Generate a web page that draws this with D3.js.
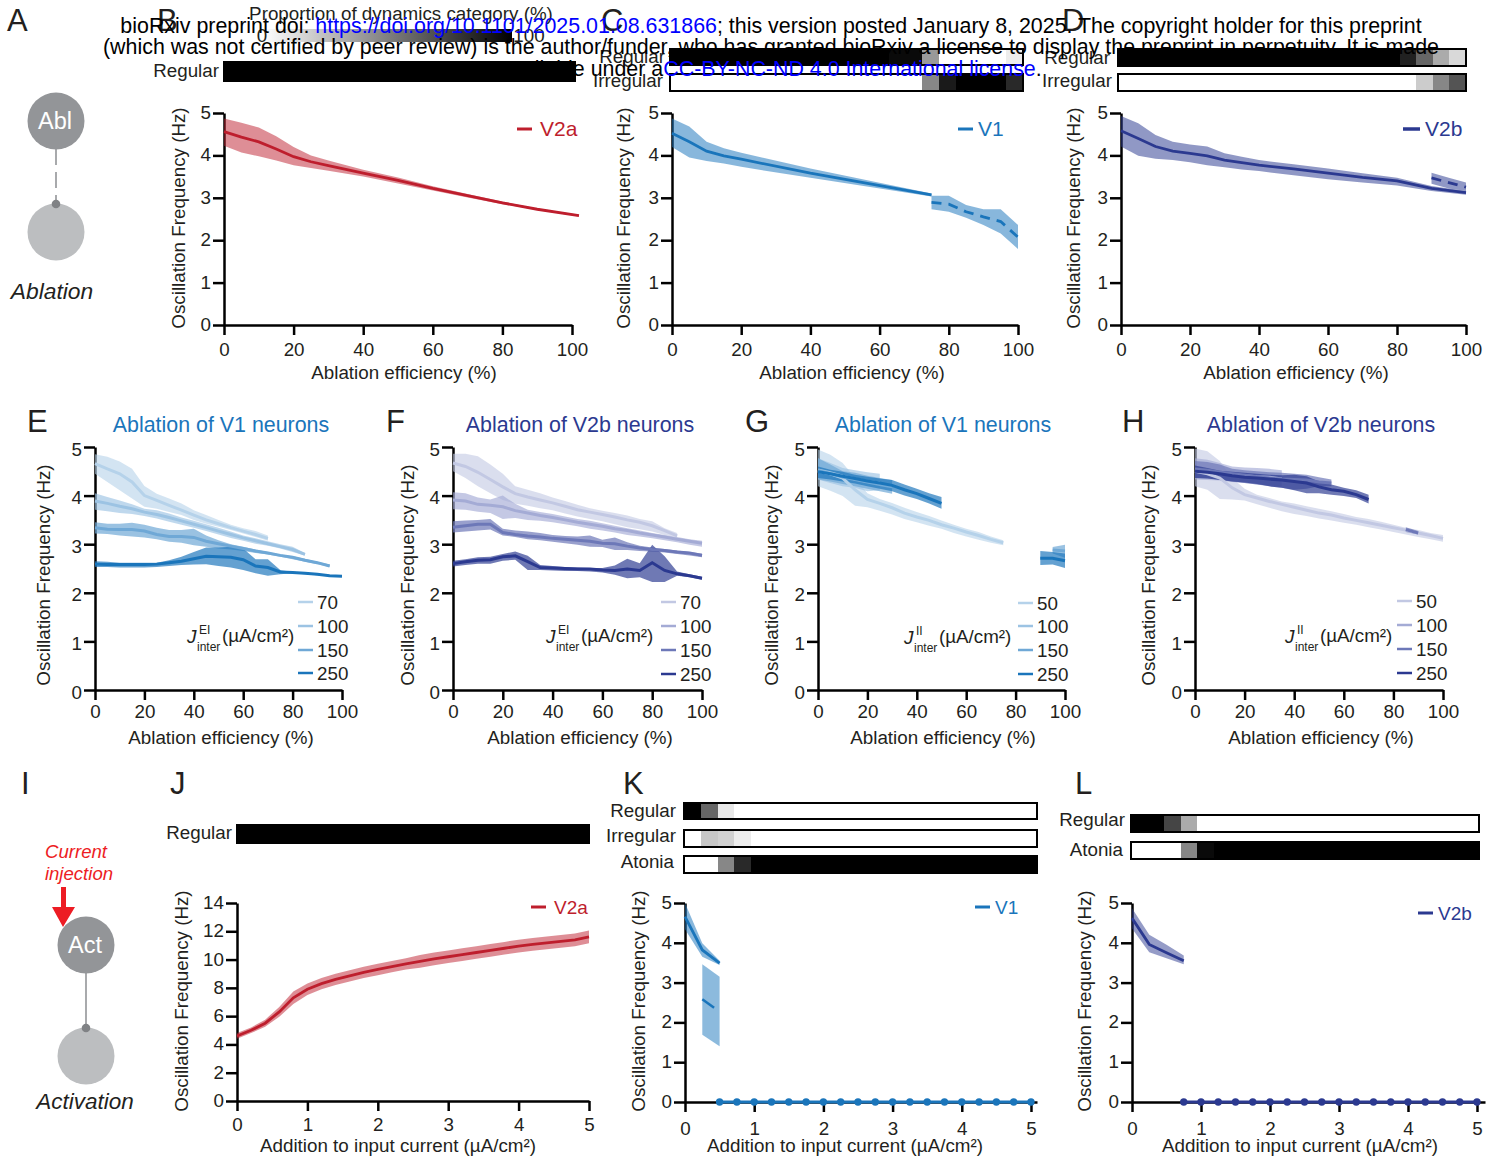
<!DOCTYPE html>
<html><head><meta charset="utf-8">
<script src="https://cdn.jsdelivr.net/npm/d3@7"></script>
<style>
html,body{margin:0;padding:0;background:#fff}
svg{display:block}
text{font-family:"Liberation Sans",Arial,sans-serif;fill:#231f20}
</style></head><body>
<svg id="c" width="1501" height="1162"></svg>
<script>
// ---------- data ----------
const effX=[0,5,10,15,20,25,30,35,40,45,50,55,60,65,70,75,80,85,90,95,100];
const curX=[0,0.25,0.5,0.75,1,1.25,1.5,1.75,2,2.25,2.5,2.75,3,3.25,3.5,3.75,4,4.25,4.5,4.75,5];
const yearTicks=[0,20,40,60,80,100];
const freqTicks=[0,1,2,3,4,5];

// B
const bX=[0,5,10,15,20,25,30,40,50,60,70,80,90,102];
const bMid=[4.56,4.43,4.32,4.15,3.97,3.85,3.76,3.58,3.41,3.22,3.05,2.88,2.73,2.58];
const bHi=[4.87,4.77,4.66,4.45,4.2,4.0,3.88,3.66,3.48,3.27,3.09,2.91,2.75,2.6];
const bLo=[4.23,4.07,3.98,3.88,3.77,3.7,3.64,3.5,3.34,3.17,3.01,2.85,2.71,2.56];
// C
const cX=[0,5,10,15,20,40,75];
const cMid=[4.52,4.32,4.10,3.99,3.91,3.58,3.07];
const cHi=[4.87,4.68,4.32,4.17,4.06,3.69,3.1];
const cLo=[4.2,3.95,3.87,3.81,3.73,3.47,3.03];
const cX2=[75,80,85,90,95,100];
const cMid2=[2.89,2.85,2.67,2.55,2.44,2.07];
const cHi2=[3.05,3.05,2.83,2.73,2.73,2.36];
const cLo2=[2.73,2.67,2.53,2.36,2.16,1.79];
// D
const dX=[0,5,10,15,20,25,30,35,40,50,60,70,80,90,100];
const dMid=[4.58,4.40,4.21,4.10,4.05,3.99,3.89,3.83,3.77,3.68,3.58,3.48,3.40,3.22,3.12];
const dHi=[4.93,4.76,4.48,4.32,4.26,4.21,4.05,3.97,3.89,3.79,3.69,3.58,3.47,3.28,3.16];
const dLo=[4.21,3.99,3.92,3.89,3.84,3.77,3.72,3.67,3.63,3.53,3.44,3.36,3.29,3.16,3.07];
const dX2=[90,95,100];
const dMid2=[3.47,3.36,3.25];
const dHi2=[3.59,3.47,3.36];
const dLo2=[3.33,3.22,3.16];
// E
const e70=[4.66,4.55,4.45,4.28,4.0,3.9,3.8,3.7,3.6,3.5,3.42,3.34,3.27,3.2,3.12];
const e70h=[4.85,4.8,4.7,4.55,4.2,4.04,3.94,3.84,3.7,3.6,3.5,3.4,3.33,3.27,3.18];
const e70l=[4.45,4.28,4.11,3.94,3.77,3.73,3.66,3.6,3.5,3.42,3.36,3.29,3.22,3.15,3.07];
const e100=[3.89,3.84,3.78,3.73,3.66,3.61,3.55,3.48,3.41,3.34,3.27,3.2,3.13,3.07,3.01,2.95,2.89,2.79];
const e100h=[4.05,3.97,3.9,3.82,3.73,3.7,3.63,3.55,3.48,3.41,3.34,3.26,3.18,3.12,3.06,3,2.95,2.82];
const e100l=[3.71,3.68,3.64,3.62,3.58,3.53,3.46,3.4,3.34,3.27,3.2,3.13,3.07,3.01,2.97,2.91,2.84,2.77];
const e150=[3.34,3.31,3.3,3.3,3.27,3.2,3.16,3.16,3.14,3.06,3.01,2.96,2.91,2.86,2.82,2.77,2.73,2.67,2.62,2.55];
const e150h=[3.45,3.42,3.42,3.44,3.4,3.34,3.29,3.29,3.32,3.18,3.08,3,2.95,2.89,2.84,2.79,2.75,2.7,2.64,2.58];
const e150l=[3.22,3.21,3.18,3.16,3.14,3.1,3.05,3.03,2.98,2.95,2.91,2.89,2.86,2.82,2.79,2.74,2.69,2.64,2.59,2.53];
const e250=[2.59,2.58,2.58,2.58,2.58,2.59,2.62,2.65,2.7,2.75,2.74,2.73,2.68,2.55,2.52,2.43,2.42,2.4,2.38,2.35,2.34];
const e250h=[2.65,2.64,2.62,2.62,2.62,2.62,2.67,2.74,2.84,2.93,2.93,2.95,2.91,2.69,2.69,2.47,2.43,2.41,2.39,2.36,2.35];
const e250l=[2.53,2.53,2.52,2.52,2.52,2.53,2.55,2.57,2.58,2.59,2.55,2.52,2.47,2.4,2.35,2.38,2.4,2.38,2.36,2.34,2.33];
// F
const f70=[4.67,4.6,4.48,4.33,4.18,4.04,3.97,3.91,3.85,3.78,3.71,3.66,3.61,3.56,3.5,3.45,3.38,3.28,3.17];
const f70h=[4.86,4.86,4.81,4.64,4.45,4.19,4.12,4.05,3.96,3.89,3.81,3.74,3.69,3.64,3.59,3.52,3.47,3.33,3.23];
const f70l=[4.5,4.36,4.19,4.05,3.91,3.83,3.79,3.74,3.7,3.63,3.57,3.52,3.47,3.41,3.35,3.31,3.26,3.19,3.15];
const f100=[3.91,3.89,3.82,3.8,3.77,3.69,3.64,3.59,3.55,3.5,3.45,3.41,3.37,3.32,3.28,3.23,3.19,3.15,3.1,3.06,3.02];
const f100h=[4.07,4.05,3.96,3.92,4,3.83,3.71,3.66,3.62,3.57,3.52,3.48,3.43,3.38,3.33,3.28,3.23,3.19,3.15,3.1,3.07];
const f100l=[3.72,3.71,3.67,3.64,3.52,3.54,3.5,3.48,3.45,3.41,3.37,3.32,3.28,3.24,3.19,3.16,3.12,3.08,3.04,2.99,2.95];
const f150=[3.35,3.38,3.41,3.41,3.24,3.2,3.17,3.15,3.12,3.1,3.08,3.06,3.02,3.01,2.96,2.92,2.89,2.87,2.84,2.82,2.77];
const f150h=[3.47,3.49,3.5,3.52,3.32,3.28,3.26,3.23,3.19,3.17,3.16,3.18,3.09,3.14,3.04,2.97,2.93,2.9,2.87,2.84,2.81];
const f150l=[3.24,3.26,3.28,3.3,3.18,3.15,3.1,3.08,3.05,3.02,2.99,2.95,2.94,2.88,2.88,2.86,2.85,2.83,2.8,2.77,2.73];
const f250=[2.6,2.64,2.67,2.68,2.74,2.76,2.64,2.52,2.51,2.5,2.49,2.49,2.47,2.46,2.49,2.46,2.62,2.46,2.39,2.35,2.3];
const f250h=[2.66,2.69,2.73,2.74,2.8,2.85,2.76,2.57,2.55,2.53,2.52,2.51,2.51,2.56,2.7,2.61,2.99,2.75,2.44,2.38,2.33];
const f250l=[2.54,2.57,2.6,2.6,2.66,2.68,2.47,2.47,2.46,2.45,2.45,2.44,2.42,2.37,2.3,2.32,2.22,2.22,2.35,2.32,2.27];
// G
const g50=[4.5,4.45,4.36,4.12,3.92,3.84,3.75,3.64,3.56,3.49,3.4,3.33,3.25,3.18,3.1,3.03];
const g50h=[4.95,4.84,4.67,4.36,4.05,3.93,3.85,3.75,3.66,3.58,3.49,3.4,3.32,3.25,3.16,3.08];
const g50l=[4.19,4.1,3.99,3.79,3.76,3.69,3.61,3.52,3.45,3.38,3.32,3.23,3.16,3.09,3.03,2.98];
const g100=[4.53,4.47,4.4,4.34,4.29,4.26];
const g100h=[4.77,4.67,4.57,4.52,4.48,4.45];
const g100l=[4.33,4.26,4.19,4.16,4.09,4.11];
const g150=[4.52,4.45,4.38,4.33,4.28,4.23,4.18];
const g150h=[4.77,4.64,4.5,4.47,4.41,4.36,4.32];
const g150l=[4.33,4.29,4.24,4.19,4.14,4.09,4.04];
const g150bX=[95,100];
const g150b=[2.88,2.86];
const g150bh=[2.94,2.99];
const g150bl=[2.81,2.72];
const g250=[4.49,4.45,4.4,4.35,4.3,4.26,4.21,4.12,4.04,3.94,3.84];
const g250h=[4.6,4.53,4.49,4.43,4.39,4.35,4.32,4.23,4.14,4.05,3.97];
const g250l=[4.36,4.33,4.29,4.25,4.19,4.14,4.09,4,3.93,3.84,3.73];
const g250bX=[90,95,100];
const g250b=[2.71,2.71,2.66];
const g250bh=[2.86,2.84,2.81];
const g250bl=[2.57,2.58,2.51];
// H
const h50=[4.5,4.45,4.36,4.16,4.02,3.95,3.88,3.82,3.76,3.7,3.64,3.6,3.54,3.49,3.44,3.39,3.34,3.29,3.23,3.18,3.12];
const h50h=[4.97,4.91,4.71,4.36,4.14,4.02,3.95,3.88,3.84,3.78,3.73,3.68,3.62,3.56,3.52,3.46,3.4,3.34,3.29,3.23,3.19];
const h50l=[4.19,4.12,3.93,3.92,3.9,3.82,3.75,3.68,3.62,3.58,3.53,3.49,3.44,3.4,3.35,3.3,3.25,3.2,3.15,3.1,3.05];
const h100=[4.53,4.5,4.47,4.43,4.41,4.39,4.38,4.34];
const h100h=[4.77,4.74,4.67,4.6,4.58,4.57,4.55,4.52];
const h100l=[4.33,4.32,4.31,4.28,4.26,4.23,4.21,4.18];
const h150=[4.55,4.52,4.48,4.45,4.42,4.39,4.36,4.34,4.33,4.32,4.28,4.26];
const h150h=[4.71,4.69,4.64,4.55,4.52,4.5,4.48,4.47,4.45,4.43,4.38,4.33];
const h150l=[4.36,4.35,4.33,4.29,4.26,4.23,4.19,4.16,4.12,4.14,4.19,4.19];
const h150bX=[85,90];
const h150b=[3.3,3.23];
const h150bh=[3.35,3.27];
const h150bl=[3.25,3.2];
const h250=[4.5,4.48,4.45,4.41,4.38,4.36,4.34,4.32,4.29,4.26,4.18,4.12,4.09,4.02,3.92];
const h250h=[4.62,4.57,4.51,4.49,4.47,4.45,4.43,4.42,4.43,4.4,4.29,4.23,4.16,4.11,4.02];
const h250l=[4.36,4.35,4.32,4.29,4.27,4.24,4.19,4.16,4.11,4.05,4.05,4.02,3.99,3.95,3.84];
// J
const jMid=[4.6,5.0,5.5,6.3,7.3,7.9,8.3,8.6,8.85,9.1,9.3,9.5,9.7,9.87,10.05,10.2,10.35,10.5,10.65,10.8,10.95,11.07,11.18,11.29,11.4,11.5,11.6];
const jX=[0,0.2,0.4,0.6,0.8,1,1.2,1.4,1.6,1.8,2,2.2,2.4,2.6,2.8,3,3.2,3.4,3.6,3.8,4,4.2,4.4,4.6,4.8,4.9,5];
const jBand=[0.2,0.2,0.25,0.35,0.45,0.4,0.4,0.4,0.4,0.4,0.4,0.4,0.4,0.45,0.45,0.45,0.45,0.45,0.45,0.45,0.45,0.45,0.45,0.45,0.45,0.45,0.45];
// K
const kX=[0,0.25,0.5];
const kMid=[4.66,3.82,3.49];
const kHi=[5,3.99,3.55];
const kLo=[4.34,3.65,3.44];
const kBandX=[0.25,0.5];
const kBandHi=[3.46,3.15];
const kBandLo=[1.69,1.4];
const kLineX=[0.25,0.42];
const kLineY=[2.58,2.37];
const kZeroX=curX.slice(2);
// L
const lX=[0,0.25,0.5,0.75];
const lMid=[4.62,3.96,3.75,3.55];
const lHi=[4.87,4.2,3.95,3.68];
const lLo=[4.36,3.76,3.61,3.46];
const lZeroX=curX.slice(3);
// heat strips, percent of trials per input step
const cRegular=[100,100,100,100,100,100,100,100,100,100,100,100,100,96,96,40,0,0,0,0,7];
const cIrregular=[0,0,0,0,0,0,0,0,0,0,0,0,0,0,0,47,90,100,100,100,84];
const dRegular=[100,100,100,100,100,100,100,100,100,100,100,100,100,100,100,100,100,87,60,33,15];
const dIrregular=[0,0,0,0,0,0,0,0,0,0,0,0,0,0,0,0,0,0,20,47,67];
const kRegular=[100,60,9,0,0,0,0,0,0,0,0,0,0,0,0,0,0,0,0,0,0];
const kIrregular=[0,22,18,7,0,0,0,0,0,0,0,0,0,0,0,0,0,0,0,0,0];
const kAtonia=[0,0,47,84,100,100,100,100,100,100,100,100,100,100,100,100,100,100,100,100,100];
const lRegular=[100,100,73,33,0,0,0,0,0,0,0,0,0,0,0,0,0,0,0,0,0];
const lAtonia=[0,0,0,47,96,100,100,100,100,100,100,100,100,100,100,100,100,100,100,100,100];
const allRegular=new Array(21).fill(100);
// ---------- colours ----------
const RED='#be1e2d',BLUE='#1a75bb',IND='#2b3990',INK='#231f20';
const blues=['#b5d2ea','#9cc3e3','#6fa8d6','#1a75bb'];
const inds=['#c2c8e3','#a4abd5','#6d78b8','#2b3990'];
const bandOp=[0.6,0.65,0.7,0.68];
const svg=d3.select('#c');
const gray=d3.scaleLinear().domain([0,100]).range(['#ffffff','#000000']);
const FS=18.8;

function txt(g,x,y,s,o={}){
  return g.append('text').attr('x',x).attr('y',y).text(s)
    .attr('font-size',o.size||FS).attr('text-anchor',o.anchor||'start')
    .attr('font-style',o.style||null).style('fill',o.fill||INK)
    .attr('transform',o.rot?`rotate(${o.rot} ${x} ${y})`:null);
}
function axes(c){
  const x=d3.scaleLinear().domain([0,c.xEnd]).range([c.x0,c.x1]);
  const y=d3.scaleLinear().domain([0,c.yMax]).range([c.y0,c.y1]);
  const g=svg.append('g');
  const ax=g.append('g').attr('transform',`translate(0,${c.y0})`)
    .call(d3.axisBottom(x).tickValues(c.xt).tickSize(10).tickSizeOuter(0).tickPadding(c.pad).tickFormat(d=>d));
  const ay=g.append('g').attr('transform',`translate(${c.x0},0)`)
    .call(d3.axisLeft(y).tickValues(c.yt).tickSize(11).tickSizeOuter(0).tickPadding(2).tickFormat(d=>d));
  [ax,ay].forEach(a=>{
    a.select('.domain').attr('stroke','#000').attr('stroke-width',2.5);
    a.selectAll('.tick line').attr('stroke','#000').attr('stroke-width',2.5);
    a.selectAll('text').attr('font-size',FS).style('fill',INK).attr('font-family','"Liberation Sans"');
  });
  ay.selectAll('text').attr('y',c.ty);
  txt(g,c.xlx,c.xly,c.xl,{anchor:'middle'});
  txt(g,c.ylx,c.yly,'Oscillation Frequency (Hz)',{anchor:'middle',rot:-90});
  return {x,y};
}
function band(s,xs,hi,lo,col,op){
  const a=d3.area().x((d,i)=>s.x(xs[i])).y0((d,i)=>s.y(lo[i])).y1((d,i)=>s.y(hi[i]));
  svg.append('path').attr('d',a(hi)).attr('fill',col).attr('fill-opacity',op);
}
function line(s,xs,ys,col,w,dash){
  const l=d3.line().x((d,i)=>s.x(xs[i])).y(d=>s.y(d));
  svg.append('path').attr('d',l(ys)).attr('fill','none').attr('stroke',col).attr('stroke-width',w)
    .attr('stroke-dasharray',dash||null);
}
function heat(x0,x1,y0,y1,vals,label,lx,ly){
  const bx=d3.scaleBand().domain(d3.range(vals.length)).range([x0,x1]);
  svg.append('g').attr('shape-rendering','crispEdges').selectAll('rect').data(vals).join('rect')
    .attr('x',(d,i)=>bx(i)).attr('y',y0).attr('width',bx.bandwidth()+1).attr('height',y1-y0)
    .attr('fill',d=>gray(d));
  svg.append('rect').attr('x',x0).attr('y',y0).attr('width',x1-x0).attr('height',y1-y0)
    .attr('fill','none').attr('stroke','#000').attr('stroke-width',2);
  txt(svg,lx,ly,label,{anchor:'end'});
}
function legendLine(x1,x2,y,col,label,w,size,gap){
  svg.append('line').attr('x1',x1).attr('x2',x2).attr('y1',y).attr('y2',y).attr('stroke',col).attr('stroke-width',w||3);
  txt(svg,x2+(gap||8),y+7,label,{size:size||19,fill:col});
}
function keyLegend(x1,ys,cols,labels){
  labels.forEach((lb,i)=>{
    svg.append('line').attr('x1',x1).attr('x2',x1+15).attr('y1',ys[i]).attr('y2',ys[i]).attr('stroke',cols[i]).attr('stroke-width',2.5);
    txt(svg,x1+19,ys[i]+6.5,lb);
  });
}
function jLabel(x,y,sup){
  txt(svg,x,y,'J',{style:'italic',size:19});
  txt(svg,x+12,y-9,sup,{size:12});
  txt(svg,x+10,y+8,'inter',{size:12});
  txt(svg,x+35,y-1,'(µA/cm²)',{size:FS});
}
const effCfg={xt:yearTicks,yt:freqTicks,xEnd:100,yMax:5,xl:'Ablation efficiency (%)'};
const curT=[0,1,2,3,4,5];

// schematics
function schematic(cx,cy1,cy2,label,dash){
  svg.append('line').attr('x1',cx).attr('x2',cx).attr('y1',cy1+28).attr('y2',cy2-28).attr('stroke','#939598').attr('stroke-width',1.6).attr('stroke-dasharray',dash||null);
  svg.append('circle').attr('cx',cx).attr('cy',cy1).attr('r',28.5).attr('fill','#939598');
  svg.append('circle').attr('cx',cx).attr('cy',cy2).attr('r',28.5).attr('fill','#bcbec0');
  svg.append('circle').attr('cx',cx).attr('cy',cy2-28).attr('r',4.3).attr('fill','#808285');
  txt(svg,cx-1,cy1+7.5,label,{size:23.5,anchor:'middle',fill:'#fff'});
}
schematic(56,121,232,'Abl','16 7');
txt(svg,52,299,'Ablation',{size:22.8,style:'italic',anchor:'middle'});
schematic(86,945,1056,'Act');
txt(svg,85,1109,'Activation',{size:22.5,style:'italic',anchor:'middle'});
txt(svg,76,858,'Current',{size:18.6,style:'italic',anchor:'middle',fill:'#ed1c24'});
txt(svg,79,880,'injection',{size:18.6,style:'italic',anchor:'middle',fill:'#ed1c24'});
svg.append('path').attr('d','M61 887H66V907H75L63 927L52 907H61Z').attr('fill','#ed1c24');

// letters
[['A',7,31],['B',157,31],['C',601,31],['D',1062,31],['E',27,432],['F',386,432],['G',745,432],['H',1122,432],['I',21,794],['J',170,794],['K',623,794],['L',1075,794]]
 .forEach(d=>txt(svg,d[1],d[2],d[0],{size:31}));

// colour bar
const defs=svg.append('defs');
const lg=defs.append('linearGradient').attr('id','gr');
lg.append('stop').attr('offset','0%').attr('stop-color','#fff');
lg.append('stop').attr('offset','100%').attr('stop-color','#000');
svg.append('rect').attr('x',263).attr('y',29).attr('width',249).attr('height',13).attr('fill','url(#gr)');
txt(svg,401,20,'Proportion of dynamics category (%)',{anchor:'middle'});
txt(svg,262,42,'0',{anchor:'middle'});
txt(svg,529,42,'100',{anchor:'middle'});

// heat strips
heat(224,575,62,81,allRegular,'Regular',219,77);
heat(670,1023,49,65,cRegular,'Regular',665,63);
heat(670,1023,74,91,cIrregular,'Irregular',663,87);
heat(1118,1466,49,66,dRegular,'Regular',1110,64);
heat(1118,1466,74,91,dIrregular,'Irregular',1112,87);
heat(237,589,825,843,allRegular,'Regular',232,839);
heat(684,1037,803,819,kRegular,'Regular',676,817);
heat(684,1037,830,847,kIrregular,'Irregular',676,842);
heat(684,1037,856,873,kAtonia,'Atonia',674,868);
heat(1131,1479,815,832,lRegular,'Regular',1125,826);
heat(1131,1479,842,859,lAtonia,'Atonia',1123,856);

// B
let s=axes({...effCfg,pad:8,ty:-0.5,x0:224,x1:572,y0:325,y1:113,xlx:404,xly:379,ylx:185,yly:218});
band(s,bX,bHi,bLo,RED,0.5); line(s,bX,bMid,RED,2.8);
legendLine(517,532,129,RED,'V2a',3,21);
// C
s=axes({...effCfg,pad:8,ty:-0.5,x0:672,x1:1018,y0:325,y1:113,xlx:852,xly:379,ylx:630,yly:218});
band(s,cX,cHi,cLo,BLUE,0.52); line(s,cX,cMid,BLUE,2.8);
band(s,cX2,cHi2,cLo2,BLUE,0.52); line(s,cX2,cMid2,BLUE,2.8,'10 7');
legendLine(958,973,129,BLUE,'V1',3,21,5);
// D
s=axes({...effCfg,pad:8,ty:-0.5,x0:1121,x1:1466,y0:325,y1:113,xlx:1296,xly:379,ylx:1080,yly:218});
band(s,dX,dHi,dLo,IND,0.52); line(s,dX,dMid,IND,2.8);
band(s,dX2,dHi2,dLo2,IND,0.52); line(s,dX2,dMid2,IND,2.8,'10 7');
legendLine(1403,1420,129,IND,'V2b',3.5,21,5);

function multi(cfg,list,cols){
  const s=axes({...effCfg,...cfg});
  list.forEach(d=>{
    const xs=d.xs||effX.slice(0,d.m.length);
    band(s,xs,d.h,d.l,cols[d.k],bandOp[d.k]);
  });
  list.forEach(d=>{
    const xs=d.xs||effX.slice(0,d.m.length);
    line(s,xs,d.m,cols[d.k],3);
  });
}
const y0s={pad:5,ty:2,y0:690,y1:447,xly:744,yly:575};
// E
multi({...y0s,x0:95,x1:342,xlx:221,ylx:50},[
 {k:0,m:e70,h:e70h,l:e70l},{k:1,m:e100,h:e100h,l:e100l},{k:2,m:e150,h:e150h,l:e150l},{k:3,m:e250,h:e250h,l:e250l}],blues);
txt(svg,221,432,'Ablation of V1 neurons',{size:21.4,anchor:'middle',fill:BLUE});
keyLegend(298,[602,626,650,673],blues,['70','100','150','250']);
jLabel(187,643,'EI');
// F
multi({...y0s,x0:453,x1:702,xlx:580,ylx:414},[
 {k:0,m:f70,h:f70h,l:f70l},{k:1,m:f100,h:f100h,l:f100l},{k:2,m:f150,h:f150h,l:f150l},{k:3,m:f250,h:f250h,l:f250l}],inds);
txt(svg,580,432,'Ablation of V2b neurons',{size:21.4,anchor:'middle',fill:IND});
keyLegend(661,[602,626,650,674],inds,['70','100','150','250']);
jLabel(546,643,'EI');
// G
multi({...y0s,x0:818,x1:1065,xlx:943,ylx:778},[
 {k:0,m:g50,h:g50h,l:g50l},{k:1,m:g100,h:g100h,l:g100l},{k:2,m:g150,h:g150h,l:g150l},
 {k:2,xs:g150bX,m:g150b,h:g150bh,l:g150bl},{k:3,m:g250,h:g250h,l:g250l},{k:3,xs:g250bX,m:g250b,h:g250bh,l:g250bl}],blues);
txt(svg,943,432,'Ablation of V1 neurons',{size:21.4,anchor:'middle',fill:BLUE});
keyLegend(1018,[603,626,650,674],blues,['50','100','150','250']);
jLabel(904,644,'II');
// H
multi({...y0s,x0:1195,x1:1443,xlx:1321,ylx:1155},[
 {k:0,m:h50,h:h50h,l:h50l},{k:1,m:h100,h:h100h,l:h100l},{k:2,m:h150,h:h150h,l:h150l},
 {k:2,xs:h150bX,m:h150b,h:h150bh,l:h150bl},{k:3,m:h250,h:h250h,l:h250l}],inds);
txt(svg,1321,432,'Ablation of V2b neurons',{size:21.4,anchor:'middle',fill:IND});
keyLegend(1397,[601,625,649,673],inds,['50','100','150','250']);
jLabel(1285,643,'II');
// J
s=axes({pad:7,ty:-0.5,xt:curT,yt:[0,2,4,6,8,10,12,14],xEnd:5,yMax:14,x0:237,x1:589,y0:1101,y1:903,xl:'Addition to input current (µA/cm²)',xlx:398,xly:1152,ylx:188,yly:1001});
band(s,jX,jMid.map((d,i)=>d+jBand[i]),jMid.map((d,i)=>d-jBand[i]),RED,0.5);
line(s,jX,jMid,RED,2.8);
legendLine(531,546,907,RED,'V2a');
// K
s=axes({pad:10,ty:-0.5,xt:curT,yt:freqTicks,xEnd:5.087,yMax:5,x0:685,x1:1037,y0:1102,y1:903,xl:'Addition to input current (µA/cm²)',xlx:845,xly:1152,ylx:645,yly:1001});
band(s,kX,kHi,kLo,BLUE,0.52); line(s,kX,kMid,BLUE,2.8);
band(s,kBandX,kBandHi,kBandLo,BLUE,0.5); line(s,kLineX,kLineY,BLUE,2.5);
line(s,kZeroX,kZeroX.map(()=>0),BLUE,2.8);
svg.append('g').selectAll('circle').data(kZeroX).join('circle').attr('cx',d=>s.x(d)).attr('cy',s.y(0)).attr('r',3.7).attr('fill',BLUE);
legendLine(975,990,907,BLUE,'V1',3,19,5);
// L
s=axes({pad:10,ty:-0.5,xt:curT,yt:freqTicks,xEnd:5.116,yMax:5,x0:1132,x1:1485,y0:1102,y1:903,xl:'Addition to input current (µA/cm²)',xlx:1300,xly:1152,ylx:1091,yly:1001});
band(s,lX,lHi,lLo,IND,0.5); line(s,lX,lMid,IND,2.8);
line(s,lZeroX,lZeroX.map(()=>0),IND,2.8);
svg.append('g').selectAll('circle').data(lZeroX).join('circle').attr('cx',d=>s.x(d)).attr('cy',s.y(0)).attr('r',3.7).attr('fill',IND);
legendLine(1418,1433,913,IND,'V2b',3,19,5);

// preprint banner, drawn over everything
function bannerLine(y,parts){
  const t=svg.append('text').attr('x',771).attr('y',y).attr('text-anchor','middle').attr('font-size',21.4);
  parts.forEach(p=>t.append('tspan').text(p[0]).style('fill',p[1]||'#000'));
}
bannerLine(33,[['bioRxiv preprint doi: '],['https://doi.org/10.1101/2025.01.08.631866','#0000ff'],['; this version posted January 8, 2025. The copyright holder for this preprint']]);
bannerLine(54,[['(which was not certified by peer review) is the author/funder, who has granted bioRxiv a license to display the preprint in perpetuity. It is made']]);
bannerLine(76,[['available under a'],['CC-BY-NC-ND 4.0 International license','#0000ff'],['.']]);
</script></body></html>
